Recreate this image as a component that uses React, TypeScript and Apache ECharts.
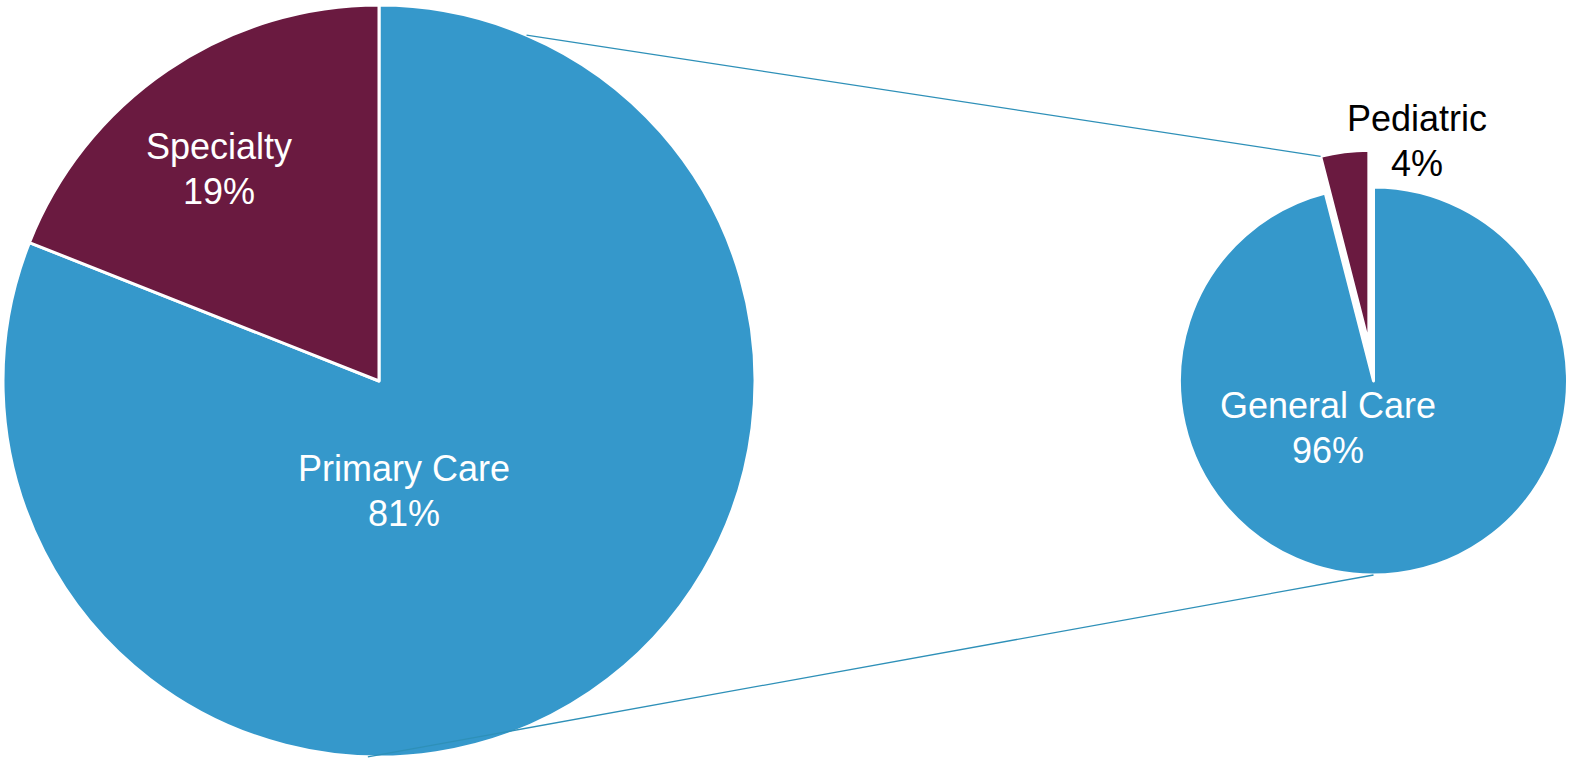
import React, { useEffect, useRef } from "react";
import * as echarts from "echarts";

const mainCategories = ["Primary Care", "Specialty"];
const mainValues = [81, 19];
const subCategories = ["General Care", "Pediatric"];
const subValues = [96, 4];

const BLUE = "#3598CB";
const MAROON = "#6A1A40";

// geometry
const L = { cx: 379, cy: 381, r: 376 };
const R = { cx: 1373.5, cy: 381, r: 194 };
const explode = 37;

// label centre positions
const mainLabelPos: [number, number][] = [[404, 491], [219, 169]];
const subLabelPos: [number, number][] = [[1328, 428], [1417, 141]];

export default function App() {
  const ref = useRef<HTMLDivElement>(null);
  useEffect(() => {
    if (!ref.current) return;
    const chart = echarts.init(ref.current, undefined, { renderer: "svg" });
    const font = "'Liberation Sans', Arial, sans-serif";

    const total = subValues[0] + subValues[1];
    const pedFrac = subValues[1] / total;
    const pedStart = 90;
    const pedEnd = 90 + pedFrac * 360;
    const pedMid = ((pedStart + pedEnd) / 2) * Math.PI / 180;
    const ox = explode * Math.cos(pedMid);
    const oy = -explode * Math.sin(pedMid);
    const pe = pedEnd * Math.PI / 180;
    const topEnd = [R.cx + ox + R.r * Math.cos(pe), R.cy + oy - R.r * Math.sin(pe)];
    const a1 = 66.9 * Math.PI / 180;
    const topStart = [L.cx + L.r * Math.cos(a1), L.cy - L.r * Math.sin(a1)];
    const a2 = -91.7 * Math.PI / 180;
    const botStart = [L.cx + L.r * Math.cos(a2), L.cy - L.r * Math.sin(a2)];
    const botEnd = [R.cx, R.cy + R.r];

    const labelBase = {
      show: true,
      position: "inside" as const,
      formatter: (p: any) => `${p.name}\n${p.value}%`,
      fontFamily: font,
      fontSize: 36,
      lineHeight: 45,
      color: "#ffffff",
      align: "center" as const,
    };

    const hidden = {
      itemStyle: { color: "rgba(0,0,0,0)", borderWidth: 0 },
      label: { show: false },
    };

    chart.setOption({
      animation: false,
      backgroundColor: "#ffffff",
      series: [
        {
          type: "pie",
          center: [L.cx, L.cy],
          radius: [0, L.r],
          startAngle: 90,
          clockwise: true,
          silent: true,
          itemStyle: { borderColor: "#ffffff", borderWidth: 3 },
          label: labelBase,
          labelLine: { show: false },
          labelLayout: (p: any) => ({
            x: mainLabelPos[p.dataIndex][0],
            y: mainLabelPos[p.dataIndex][1],
            align: "center",
            verticalAlign: "middle",
          }),
          data: mainCategories.map((n, i) => ({
            name: n,
            value: mainValues[i],
            itemStyle: { color: i === 0 ? BLUE : MAROON },
          })),
        },
        {
          type: "pie",
          center: [R.cx, R.cy],
          radius: [0, R.r],
          startAngle: 90,
          clockwise: true,
          silent: true,
          itemStyle: { borderColor: "#ffffff", borderWidth: 3 },
          label: labelBase,
          labelLine: { show: false },
          labelLayout: (p: any) => ({
            x: subLabelPos[p.dataIndex][0],
            y: subLabelPos[p.dataIndex][1],
            align: "center",
            verticalAlign: "middle",
          }),
          data: subCategories.map((n, i) =>
            i === 0
              ? { name: n, value: subValues[i], itemStyle: { color: BLUE } }
              : { name: n, value: subValues[i], ...hidden }
          ),
        },
        {
          type: "pie",
          center: [R.cx + ox, R.cy + oy],
          radius: [0, R.r],
          startAngle: 90,
          clockwise: true,
          silent: true,
          itemStyle: { borderColor: "#ffffff", borderWidth: 3 },
          label: { ...labelBase, color: "#000000" },
          labelLine: { show: false },
          labelLayout: (p: any) => ({
            x: subLabelPos[p.dataIndex][0],
            y: subLabelPos[p.dataIndex][1],
            align: "center",
            verticalAlign: "middle",
          }),
          data: subCategories.map((n, i) =>
            i === 1
              ? { name: n, value: subValues[i], itemStyle: { color: MAROON } }
              : { name: n, value: subValues[i], ...hidden }
          ),
        },
      ],
      graphic: [
        {
          type: "line",
          z: 100,
          shape: { x1: topStart[0], y1: topStart[1], x2: topEnd[0], y2: topEnd[1] },
          style: { stroke: "#2E90B8", lineWidth: 1.3 },
        },
        {
          type: "line",
          z: 100,
          shape: { x1: botStart[0], y1: botStart[1], x2: botEnd[0], y2: botEnd[1] },
          style: { stroke: "#2E90B8", lineWidth: 1.3 },
        },
      ],
    });
    return () => chart.dispose();
  }, []);
  return (
    <div
      ref={ref}
      style={{ position: "fixed", left: 0, top: 0, width: 1570, height: 762 }}
    />
  );
}
